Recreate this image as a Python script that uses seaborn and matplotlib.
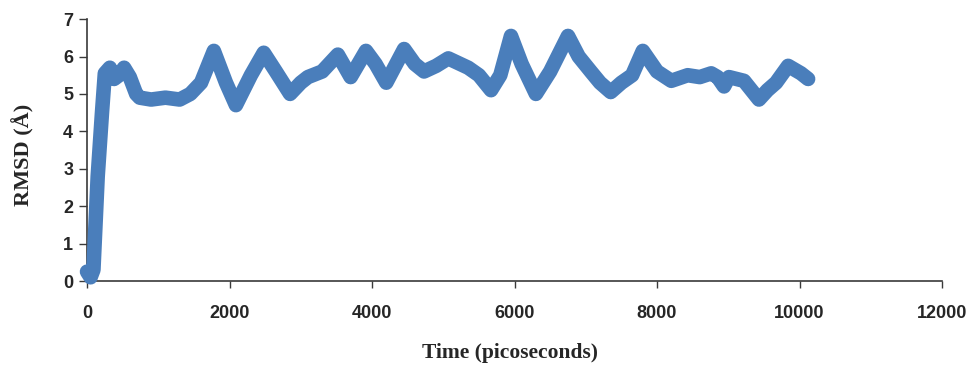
import matplotlib
matplotlib.use("Agg")
import matplotlib.pyplot as plt
import seaborn as sns
import numpy as np
import pandas as pd

# DATA
time_ps = [0, 50, 90, 150, 210, 250, 320, 380, 450, 520, 600, 690, 740, 900,
           1100, 1300, 1450, 1600, 1780, 1950, 2090, 2300, 2480, 2650, 2850,
           3000, 3100, 3300, 3520, 3700, 3915, 4050, 4200, 4450, 4600, 4730,
           4900, 5070, 5350, 5500, 5670, 5800, 5950, 6100, 6300, 6500, 6750,
           6900, 7070, 7200, 7350, 7500, 7650, 7800, 8000, 8200, 8430, 8600,
           8760, 8850, 8940, 9010, 9220, 9430, 9550, 9670, 9840, 10020, 10120]
rmsd = [0.25, 0.1, 0.3, 2.8, 4.5, 5.55, 5.7, 5.4, 5.5, 5.7, 5.45, 5.0, 4.9,
        4.85, 4.9, 4.85, 5.0, 5.3, 6.15, 5.3, 4.7, 5.5, 6.1, 5.6, 5.0,
        5.3, 5.45, 5.6, 6.05, 5.45, 6.15, 5.8, 5.3, 6.2, 5.8, 5.6,
        5.75, 5.95, 5.7, 5.5, 5.1, 5.5, 6.55, 5.8, 5.0, 5.6, 6.55,
        6.0, 5.6, 5.3, 5.05, 5.3, 5.5, 6.15, 5.6, 5.35, 5.5, 5.45,
        5.55, 5.45, 5.2, 5.45, 5.35, 4.85, 5.1, 5.3, 5.75, 5.55, 5.4]

x_ticks = [0, 2000, 4000, 6000, 8000, 10000, 12000]
y_ticks = [0, 1, 2, 3, 4, 5, 6, 7]

df = pd.DataFrame({"time": time_ps, "rmsd": rmsd})

# DRAW
sns.set_style("white")
plt.rcParams['font.family'] = ['Liberation Sans', 'DejaVu Sans']

fig = plt.figure(figsize=(9.68, 3.67), dpi=100)
ax = fig.add_axes([0.0899, 0.2343, 0.8833, 0.7137])

sns.lineplot(data=df, x="time", y="rmsd", ax=ax, color="#4a7ebb",
             linewidth=10.5, solid_joinstyle="round", solid_capstyle="round",
             clip_on=False, zorder=3)

ax.set_xlim(0, 12000)
ax.set_ylim(0, 7)
ax.set_xticks(x_ticks)
ax.set_yticks(y_ticks)

for s in ["top", "right"]:
    ax.spines[s].set_visible(False)
for s in ["left", "bottom"]:
    ax.spines[s].set_color("#3a3a3a")
    ax.spines[s].set_linewidth(1.2)

ax.tick_params(axis="y", direction="out", length=6, width=1, color="#3a3a3a",
               pad=4, labelsize=13, left=True)
ax.tick_params(axis="x", direction="out", length=5, width=1, color="#3a3a3a",
               pad=12, labelsize=13, bottom=True)
for lab in ax.get_xticklabels() + ax.get_yticklabels():
    lab.set_fontweight("bold")

ax.set_xlabel("Time (picoseconds)", fontsize=15.5, fontweight="bold",
              family="Liberation Serif")
ax.set_ylabel("RMSD (Å)", fontsize=16, fontweight="bold",
              family="Liberation Serif")
ax.xaxis.set_label_coords(0.495, -0.235)
ax.yaxis.set_label_coords(-0.062, 0.48)

plt.savefig("out.png", dpi=100)
